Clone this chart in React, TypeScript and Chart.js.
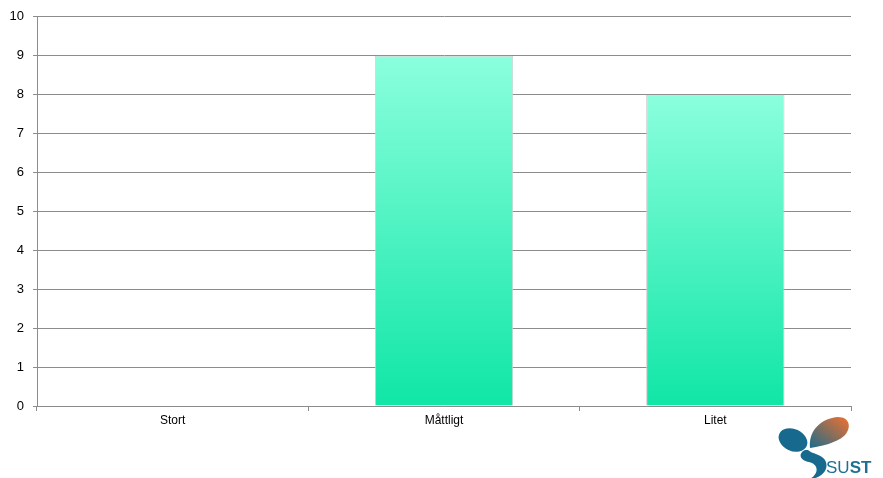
import React, { useEffect, useRef } from "react";
import { Chart, registerables } from "chart.js";

Chart.register(...registerables);

const categories = ["Stort", "Måttligt", "Litet"];
const values = [0, 9, 8];
const yTicks = [0, 1, 2, 3, 4, 5, 6, 7, 8, 9, 10];

export default function App() {
  const ref = useRef<HTMLCanvasElement | null>(null);

  useEffect(() => {
    document.body.style.margin = "0";
    const canvas = ref.current;
    if (!canvas) return;
    const chart = new Chart(canvas, {
      type: "bar",
      data: {
        labels: categories,
        datasets: [
          {
            data: values,
            backgroundColor: (ctx: any) => {
              const c = ctx.chart;
              const ys = c.scales?.y;
              if (!ys || ctx.dataIndex === undefined) return "#4ff3c0";
              const v = values[ctx.dataIndex] ?? 0;
              const top = ys.getPixelForValue(v);
              const bottom = ys.getPixelForValue(0);
              if (!isFinite(top) || !isFinite(bottom) || top === bottom) return "#4ff3c0";
              const g = c.ctx.createLinearGradient(0, bottom, 0, top);
              g.addColorStop(0, "#10E6A6");
              g.addColorStop(1, "#8BFFDD");
              return g;
            },
            borderColor: "#cfcfcf",
            borderWidth: 1,
            barPercentage: 0.51,
            categoryPercentage: 1,
          },
        ],
      },
      options: {
        animation: false,
        responsive: false,
        layout: { padding: { top: 16, right: 32, left: 0, bottom: 0 } },
        plugins: {
          legend: { display: false },
          tooltip: { enabled: false },
          title: { display: false },
        },
        scales: {
          x: {
            grid: {
              display: true,
              drawOnChartArea: false,
              drawTicks: true,
              tickLength: 5,
              color: "#8c8c8c",
              offset: true,
            },
            border: { color: "#8c8c8c", width: 1 },
            ticks: {
              color: "#000",
              font: { family: "Liberation Sans, Arial", size: 12 },
              padding: 2,
            },
            afterFit: (s: any) => {
              s.height = 72;
            },
          },
          y: {
            min: 0,
            max: 10,
            afterBuildTicks: (s: any) => {
              s.ticks = yTicks.map((v) => ({ value: v }));
            },
            grid: {
              color: "#8c8c8c",
              tickLength: 4,
              lineWidth: 1,
            },
            border: { color: "#8c8c8c", width: 1 },
            ticks: {
              color: "#000",
              font: { family: "Liberation Sans, Arial", size: 13 },
              padding: 9,
            },
            afterFit: (s: any) => {
              s.width = 37;
            },
          },
        },
      },
    });
    return () => chart.destroy();
  }, []);

  return (
    <div style={{ position: "relative", width: 883, height: 478, background: "#fff" }}>
      <canvas ref={ref} width={883} height={478} style={{ position: "absolute", left: 0, top: 0 }} />
      <svg
        width={110}
        height={70}
        viewBox="0 0 110 70"
        style={{ position: "absolute", left: 772, top: 412 }}
      >
        <defs>
          <linearGradient id="leaf" x1="0" y1="1" x2="1" y2="0">
            <stop offset="0%" stopColor="#1b6c8a" />
            <stop offset="100%" stopColor="#f2702f" />
          </linearGradient>
        </defs>
        <ellipse cx="21" cy="28" rx="15" ry="11" fill="#176a8e" transform="rotate(25 21 28)" />
        <path d="M38 36 C 36 18, 50 6, 66 5 C 78 5, 80 16, 72 24 C 64 31, 50 34, 38 36 Z" fill="url(#leaf)" />
        <path d="M33 38 C 25 42, 29 49, 37 50 C 46 52, 48 61, 38 67 C 50 66, 58 57, 53 48 C 49 42, 40 42, 36 38 Z" fill="#176a8e" />
        <text x="54" y="61" fontFamily="Liberation Sans, Arial" fontSize="17" fill="#1f6f93">
          SU<tspan fontWeight="bold">ST</tspan>
        </text>
      </svg>
    </div>
  );
}
